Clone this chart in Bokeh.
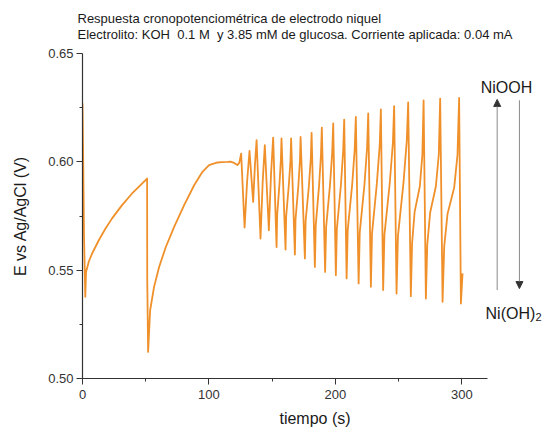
from bokeh.plotting import figure
from bokeh.models import (Range1d, FixedTicker, PrintfTickFormatter, Label, Arrow, NormalHead, Title)
from bokeh.embed import file_html
from bokeh.resources import INLINE

# ---- data ----
time_s = [
    0.0, 0.5, 1.2, 2.2, 2.8, 5.0, 7.6, 12.9, 18.2, 23.4, 31.3, 39.2, 44.5, 51.1,
    51.2, 51.9,
    53.5, 56.6, 60.6, 65.9, 72.5, 80.4, 88.3, 94.9, 100.1, 106.8, 110.5, 114.7,
    117.0, 119.9, 122.5, 124.0,
    125.5, 128.2, 130.2, 132.1, 135.0, 136.4, 137.7, 140.8, 142.5, 144.2, 147.4, 149.1,
    150.8, 153.5, 154.0, 155.8, 156.9,
    157.4, 160.6, 161.1, 163.2, 164.5,
    165.0, 168.0, 168.5, 170.7, 172.0,
    172.5, 175.9, 176.5, 179.1, 180.6,
    181.2, 183.8, 184.5, 187.1, 188.6,
    189.3, 191.9, 192.7, 195.7, 197.5,
    198.3, 200.4, 201.2, 204.4, 206.2,
    207.0, 208.9, 209.8, 213.3, 215.3,
    216.2, 218.4, 219.3, 223.0, 225.1,
    226.0, 228.1, 229.0, 232.8, 235.1,
    236.0, 237.8, 238.8, 243.0, 245.5,
    246.5, 248.4, 249.5, 253.9, 256.5,
    257.6, 259.7, 260.7, 262.7, 266.8, 268.8,
    269.8, 271.6, 272.7, 275.0, 279.5, 281.8,
    282.9, 284.8, 286.1, 288.7, 294.0, 296.6,
    297.9, 299.3, 300.6,
]
potential_v = [
    0.627, 0.604, 0.566, 0.5377, 0.5492, 0.5540, 0.5577, 0.5638, 0.5692, 0.5739, 0.5800, 0.5854, 0.5884, 0.5923,
    0.5462, 0.5123,
    0.5315, 0.5423, 0.5515, 0.5607, 0.5700, 0.5800, 0.5892, 0.5954, 0.5985, 0.5997, 0.5999, 0.6000,
    0.6001, 0.5995, 0.5985, 0.5995,
    0.6038, 0.5697, 0.5909, 0.6050, 0.5815, 0.5986, 0.6100, 0.5646, 0.5905, 0.6077, 0.5684, 0.5941,
    0.6112, 0.5607, 0.5757, 0.5898, 0.6008,
    0.6108, 0.5595, 0.5749, 0.5893, 0.6005,
    0.6108, 0.5572, 0.5735, 0.5887, 0.6006,
    0.6115, 0.5554, 0.5728, 0.5890, 0.6018,
    0.6134, 0.5515, 0.5708, 0.5888, 0.6029,
    0.6158, 0.5492, 0.5698, 0.5889, 0.6040,
    0.6177, 0.5477, 0.5692, 0.5893, 0.6051,
    0.6195, 0.5462, 0.5686, 0.5894, 0.6058,
    0.6207, 0.5439, 0.5674, 0.5894, 0.6066,
    0.6223, 0.5423, 0.5669, 0.5898, 0.6078,
    0.6242, 0.5408, 0.5663, 0.5900, 0.6087,
    0.6257, 0.5392, 0.5657, 0.5904, 0.6098,
    0.6274, 0.5380, 0.5624, 0.5769, 0.5886, 0.6031,
    0.6284, 0.5369, 0.5618, 0.5766, 0.5886, 0.6034,
    0.6292, 0.5354, 0.5608, 0.5759, 0.5881, 0.6032,
    0.6295, 0.5346, 0.5485,
]
x_ticks = [0, 100, 200, 300]
x_minor = [50, 150, 250]
y_ticks = [0.50, 0.55, 0.60, 0.65]
y_minor = [0.525, 0.575, 0.625]

title_1 = "Respuesta cronopotenciométrica de electrodo niquel"
title_2 = "Electrolito: KOH\u00a0 0.1 M\u00a0 y 3.85 mM de glucosa. Corriente aplicada: 0.04 mA"
x_label = "tiempo (s)"
y_label = "E vs Ag/AgCl (V)"

FONT = "Liberation Sans"
TXT = "#1a1a1a"
AX = "#333333"

p = figure(width=547, height=434, output_backend="svg", toolbar_location=None,
           x_range=Range1d(0, 367.8), y_range=Range1d(0.50, 0.65),
           min_border_left=82, min_border_right=0, min_border_top=53, min_border_bottom=56)
p.outline_line_color = None
p.grid.visible = False
p.background_fill_color = "white"
p.border_fill_color = "white"

p.line(time_s, potential_v, line_color="#F0902A", line_width=1.8, line_join="round")

for ax in (p.xaxis[0], p.yaxis[0]):
    ax.axis_line_color = AX
    ax.axis_line_width = 1.2
    ax.major_tick_line_color = AX
    ax.minor_tick_line_color = AX
    ax.major_tick_in = 0
    ax.minor_tick_in = 0
    ax.major_tick_out = 6
    ax.minor_tick_out = 3
    ax.major_label_text_font = FONT
    ax.major_label_text_font_size = "13px"
    ax.major_label_text_color = "#333333"
    ax.axis_label_text_font = FONT
    ax.axis_label_text_font_size = "16px"
    ax.axis_label_text_font_style = "normal"
    ax.axis_label_text_color = TXT

p.xaxis.ticker = FixedTicker(ticks=x_ticks, minor_ticks=x_minor)
p.yaxis.ticker = FixedTicker(ticks=y_ticks, minor_ticks=y_minor)
p.yaxis.formatter = PrintfTickFormatter(format="%.2f")
p.xaxis.bounds = (0, 320)
p.yaxis.bounds = (0.50, 0.65)
p.xaxis.axis_label = x_label
p.yaxis.axis_label = y_label
p.xaxis.major_label_standoff = 5
p.yaxis.major_label_standoff = 3
p.xaxis.axis_label_standoff = 8
p.yaxis.axis_label_standoff = 16

# two-line title
p.add_layout(Title(text=title_1 + "\n" + title_2, align="left", offset=-5, standoff=19,
                   vertical_align="top", text_line_height=1.05, text_font=FONT,
                   text_font_size="13px", text_font_style="normal", text_color=TXT), "above")

# redox arrows and labels
p.add_layout(Arrow(end=NormalHead(size=7, fill_color="#333333", line_color="#333333"),
                   x_start=328.0, y_start=0.5408, x_end=328.0, y_end=0.6288,
                   line_color="#8a8a8a", line_width=1))
p.add_layout(Arrow(end=NormalHead(size=7, fill_color="#333333", line_color="#333333"),
                   x_start=345.6, y_start=0.6284, x_end=345.6, y_end=0.5415,
                   line_color="#8a8a8a", line_width=1))
p.add_layout(Label(x=335.4, y=0.6343, text="NiOOH", text_font=FONT, text_font_size="16px",
                   text_color=TXT, text_align="center", text_baseline="alphabetic"))
p.add_layout(Label(x=318.8, y=0.5300, text="Ni(OH)", text_font=FONT, text_font_size="16px",
                   text_color=TXT, text_baseline="alphabetic"))
p.add_layout(Label(x=358.3, y=0.5283, text="2", text_font=FONT, text_font_size="11px",
                   text_color=TXT, text_baseline="alphabetic"))

open("out.html", "w").write(file_html(p, INLINE))
